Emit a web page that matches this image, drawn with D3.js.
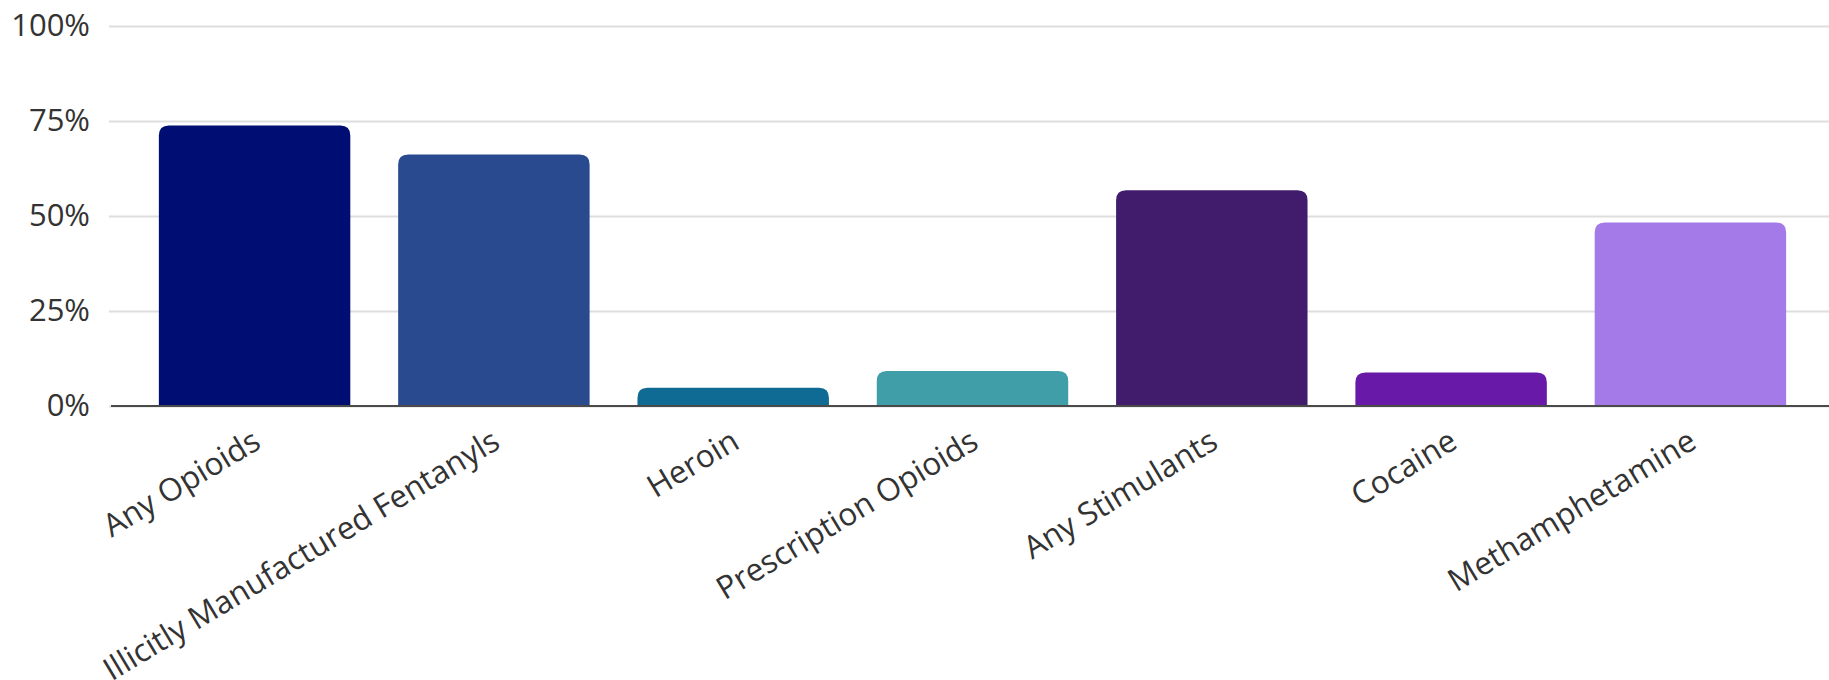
<!DOCTYPE html>
<html>
<head>
<meta charset="utf-8">
<script src="https://cdn.jsdelivr.net/npm/d3@7"></script>
<style>
  body { margin: 0; background: #fff; }
  svg { display: block; }
  text { font-family: "Open Sans", sans-serif; }
</style>
</head>
<body>
<div id="chart"></div>
<script>
// values (percent of deaths)
var categories = ["Any Opioids", "Illicitly Manufactured Fentanyls", "Heroin",
  "Prescription Opioids", "Any Stimulants", "Cocaine", "Methamphetamine"];
var values = [73.8, 66.2, 4.8, 9.2, 56.8, 8.8, 48.3];
var barColors = ["#000d72", "#2a4a8f", "#0f6b93", "#409ea9", "#421c6c", "#6819a8", "#a37ae8"];
var yTicks = [0, 25, 50, 75, 100];

;(function(cxt){
  var BarChart = function(){
    this.init.apply(this, arguments);
  }
  BarChart.prototype = {
    init:function(options){
      this.container = options.container;
      this.width = options.width;
      this.height = options.height;
      this.left = 109;
      this.right = 1834;
      this.base = 406;
      this.top = 26;
      this.radius = 10;
      this.initScales();
      this.initElement();
    },
    initScales:function(){
      this.x = d3.scaleBand()
        .domain(categories)
        .range([this.left + 2, this.right])
        .paddingInner(0.2)
        .paddingOuter(0.2);
      this.y = d3.scaleLinear()
        .domain([0, 100])
        .range([this.base, this.top]);
    },
    // bar with rounded top corners only
    barPath:function(x0, w, yTop, yBase){
      var r = Math.min(this.radius, w / 2, yBase - yTop);
      return "M" + x0 + "," + yBase +
        "V" + (yTop + r) +
        "Q" + x0 + "," + yTop + " " + (x0 + r) + "," + yTop +
        "H" + (x0 + w - r) +
        "Q" + (x0 + w) + "," + yTop + " " + (x0 + w) + "," + (yTop + r) +
        "V" + yBase + "Z";
    },
    initElement:function(){
      var _this = this;
      var svg = d3.select(this.container).append("svg")
        .attr("width", this.width)
        .attr("height", this.height);

      // y axis: labels + grid lines
      var yAxis = svg.append("g")
        .attr("class", "y-axis")
        .attr("transform", "translate(" + this.left + ",0)")
        .call(d3.axisLeft(this.y)
          .tickValues(yTicks)
          .tickFormat(function(d){ return d + "%"; })
          .tickSize(-(this.width - this.left))
          .tickPadding(19));
      yAxis.select(".domain").remove();
      yAxis.selectAll(".tick line")
        .attr("stroke", "#dedede")
        .attr("stroke-width", 2);
      yAxis.selectAll(".tick text")
        .attr("fill", "#333")
        .style("font-size", "31px");

      // bars
      svg.append("g").selectAll("path")
        .data(values)
        .enter().append("path")
        .attr("fill", function(d, i){ return barColors[i]; })
        .attr("d", function(d, i){
          return _this.barPath(_this.x(categories[i]), _this.x.bandwidth(), _this.y(d), _this.y(0));
        });

      // x axis with rotated labels
      var xAxis = svg.append("g")
        .attr("class", "x-axis")
        .attr("transform", "translate(0," + this.base + ")")
        .call(d3.axisBottom(this.x).tickSize(0).tickSizeOuter(0));
      xAxis.select(".domain")
        .attr("d", "M" + (this.left + 2) + ",0H" + this.width)
        .attr("stroke", "#4a4a4a")
        .attr("stroke-width", 2);
      xAxis.selectAll(".tick text")
        .attr("x", 0)
        .attr("y", 0)
        .attr("dy", 0)
        .attr("text-anchor", "end")
        .attr("fill", "#333")
        .attr("transform", "translate(8,41) rotate(-31)")
        .style("font-size", "31.5px");
    }
  };
  cxt.BarChart = BarChart;
})(window);

new BarChart({ container: "#chart", width: 1829, height: 680 });
</script>
</body>
</html>
